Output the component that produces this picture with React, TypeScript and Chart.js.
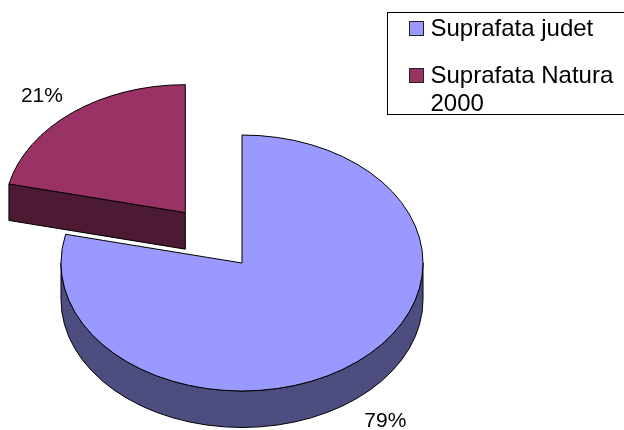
import React, { useEffect, useRef } from "react";
import { Chart, registerables } from "chart.js";

Chart.register(...registerables);

const categories = ["Suprafata judet", "Suprafata Natura 2000"];
const shares = [78.6, 21.4];
const shareLabels = ["79%", "21%"];
const topColors = ["#9999FF", "#993366"];
const wallColors = ["#4D4D80", "#4D1A33"];
const explodeBy = [0, 91];

const SQUASH = 128 / 181;
const DEPTH = 36.5;
const OUTLINE = "#000000";
const FONT = '"Liberation Sans", Arial, sans-serif';

const pie3dPlugin = {
  id: "pie3d",
  beforeDatasetsDraw(chart: any) {
    const ctx: CanvasRenderingContext2D = chart.ctx;
    const arcs = chart.getDatasetMeta(0).data as any[];
    const depth = DEPTH / SQUASH;

    const squash = (cy: number) => {
      ctx.translate(0, cy);
      ctx.scale(1, SQUASH);
      ctx.translate(0, -cy);
    };
    const paint = (fill: string, build: () => void, cy: number) => {
      ctx.save();
      squash(cy);
      ctx.beginPath();
      build();
      ctx.closePath();
      ctx.restore();
      ctx.fillStyle = fill;
      ctx.fill();
      ctx.lineWidth = 1;
      ctx.strokeStyle = OUTLINE;
      ctx.lineJoin = "round";
      ctx.stroke();
    };

    arcs.forEach((arc, i) => {
      const { startAngle: a, endAngle: b, outerRadius: r, x, y } = arc;
      const mid = (a + b) / 2;
      const ex = Math.cos(mid) * explodeBy[i];
      const ey = Math.sin(mid) * explodeBy[i];
      const cx = x + ex;
      const cy = y + ey;
      const centre = y;

      // rim wall
      const from = Math.max(a, 0);
      const to = Math.min(b, Math.PI);
      if (to > from) {
        paint(
          wallColors[i],
          () => {
            ctx.arc(cx, cy, r, from, to);
            ctx.arc(cx, cy + depth, r, to, from, true);
          },
          centre,
        );
      }
      // cut walls
      const edge = (angle: number) =>
        paint(
          wallColors[i],
          () => {
            ctx.moveTo(cx, cy);
            ctx.lineTo(cx + Math.cos(angle) * r, cy + Math.sin(angle) * r);
            ctx.lineTo(cx + Math.cos(angle) * r, cy + depth + Math.sin(angle) * r);
            ctx.lineTo(cx, cy + depth);
          },
          centre,
        );
      if (Math.sin(a - Math.PI / 2) > 0.001) edge(a);
      if (Math.sin(b + Math.PI / 2) > 0.001) edge(b);

      // top face drawn by the library's arc element
      ctx.save();
      squash(centre);
      ctx.translate(ex, ey);
      arc.draw(ctx);
      ctx.restore();

      // even outline for the top face
      ctx.save();
      squash(centre);
      ctx.beginPath();
      ctx.moveTo(cx, cy);
      ctx.arc(cx, cy, r, a, b);
      ctx.closePath();
      ctx.restore();
      ctx.lineWidth = 1;
      ctx.strokeStyle = OUTLINE;
      ctx.stroke();
    });

    // value labels
    ctx.fillStyle = "#000000";
    ctx.font = `21px ${FONT}`;
    ctx.textAlign = "center";
    ctx.textBaseline = "alphabetic";
    arcs.forEach((arc, i) => {
      const mid = (arc.startAngle + arc.endAngle) / 2;
      const r = arc.outerRadius;
      const ex = Math.cos(mid) * (explodeBy[i] + r * 1.272);
      const ey = Math.sin(mid) * (explodeBy[i] + r * 1.183) * SQUASH;
      const below = Math.sin(mid) > 0 ? DEPTH + 2 : 0;
      ctx.fillText(shareLabels[i], arc.x + ex, arc.y + ey + below + 7.5);
    });
    return false;
  },
};

export default function App() {
  const canvasRef = useRef<HTMLCanvasElement>(null);

  useEffect(() => {
    const chart = new Chart(canvasRef.current as HTMLCanvasElement, {
      type: "pie",
      data: {
        labels: categories,
        datasets: [
          {
            data: shares,
            backgroundColor: topColors,
            borderWidth: 0,
          },
        ],
      },
      options: {
        animation: false,
        responsive: false,
        radius: 181,
        layout: { padding: { left: 0, right: 140, top: 96, bottom: 0 } },
        plugins: { legend: { display: false }, tooltip: { enabled: false } },
      } as any,
      plugins: [pie3dPlugin as any],
    });
    return () => chart.destroy();
  }, []);

  const rowTops = [14.4, 61];
  const swatchTops = [20.7, 68];

  return (
    <div
      style={{
        position: "fixed",
        left: 0,
        top: 0,
        width: 624,
        height: 430,
        overflow: "hidden",
        background: "#fff",
      }}
    >
      <canvas
        ref={canvasRef}
        width={624}
        height={430}
        style={{ position: "absolute", left: 0, top: 0, width: 624, height: 430 }}
      />
      <div
        style={{
          position: "absolute",
          left: 387,
          top: 12,
          width: 300,
          height: 103,
          boxSizing: "border-box",
          border: "1px solid #000",
          background: "#fff",
        }}
      />
      {categories.map((name, i) => (
        <React.Fragment key={name}>
          <div
            style={{
              position: "absolute",
              left: 409,
              top: swatchTops[i],
              width: 15,
              height: 15,
              boxSizing: "border-box",
              border: "1px solid #222",
              background: topColors[i],
            }}
          />
          <div
            style={{
              position: "absolute",
              left: 430.5,
              top: rowTops[i],
              width: 190,
              font: `24px/28px ${FONT}`,
              color: "#000",
            }}
          >
            {name}
          </div>
        </React.Fragment>
      ))}
    </div>
  );
}
